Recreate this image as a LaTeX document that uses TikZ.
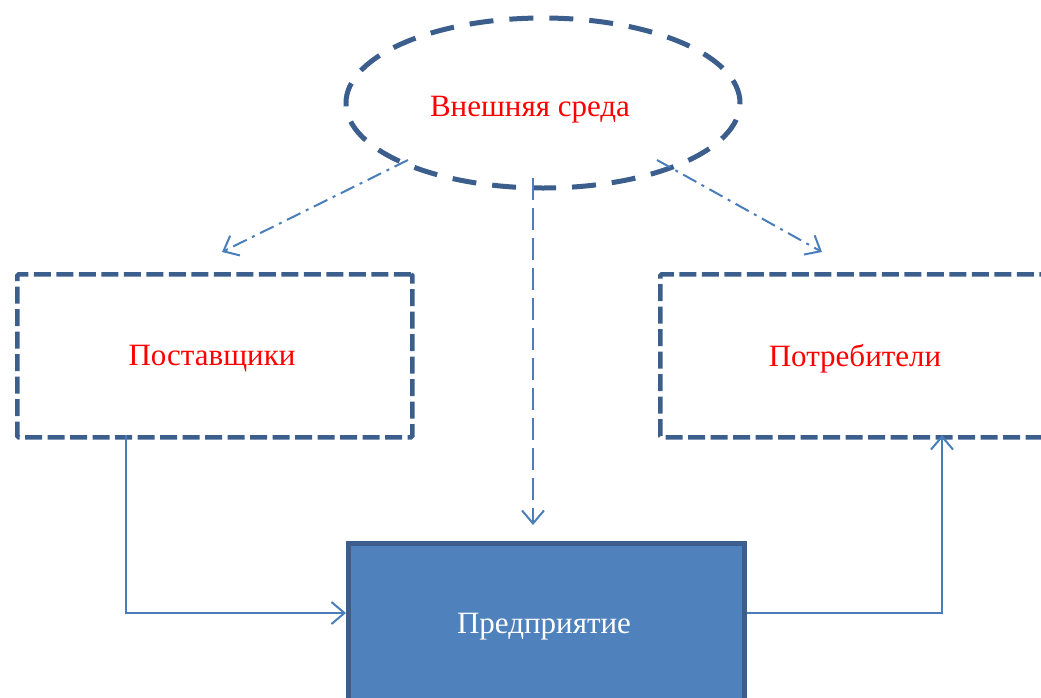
\documentclass[tikz,border=0pt]{standalone}
\usepackage{fontspec}
\setmainfont{Liberation Serif}
\usetikzlibrary{shapes.geometric,arrows.meta}
\definecolor{bord}{RGB}{59,94,140}
\definecolor{fillb}{RGB}{79,129,189}
\definecolor{arr}{RGB}{74,126,187}
\tikzset{
  lbl/.style={font=\fontsize{31}{36}\selectfont},
  dbox/.style={draw=bord, line width=4.6pt, dash pattern=on 17pt off 5.5pt, rectangle, rounded corners=1.5pt},
  ell/.style={draw=bord, line width=5pt, dash pattern=on 24pt off 16pt, ellipse},
  conn/.style={draw=arr, line width=2pt, -{Straight Barb[length=13pt,width=22pt,line width=2pt]}},
  dashdot/.style={conn, dash pattern=on 15pt off 6pt on 3pt off 6pt},
  dashline/.style={conn, dash pattern=on 22pt off 8pt}
}
\begin{document}
\begin{tikzpicture}[x=1pt,y=-1pt]
\useasboundingbox (0,0) rectangle (1041,697);
\clip (0,0) rectangle (1041,697);
\node[ell, minimum width=394pt, minimum height=170pt] (env) at (543,103) {};
\node[lbl, text=red] (envtxt) at (530,110) {Внешняя среда};
\node[dbox, minimum width=395pt, minimum height=163pt, anchor=north west] (sup) at (15,272) {};
\node[lbl, text=red] (suptxt) at (212,359) {Поставщики};
\node[dbox, minimum width=420pt, minimum height=163pt, anchor=north west] (cons) at (658,272) {};
\node[lbl, text=red] (constxt) at (855,359) {Потребители};
\node[draw=bord, fill=fillb, line width=4.5pt, minimum width=396pt, minimum height=200pt, anchor=north west] (ent) at (346,541) {};
\node[lbl, text=white] (enttxt) at (544,627) {Предприятие};
\coordinate (e1) at (408,160);
\coordinate (e2) at (657,160);
\coordinate (e3) at (533,178);
\coordinate (t1) at (222,252);
\coordinate (t2) at (822,252);
\coordinate (t3) at (533,525);
\draw[dashdot] (e1) -- (t1);
\draw[dashdot] (e2) -- (t2);
\draw[dashline] (e3) -- (t3);
\coordinate (s1) at (126,435);
\coordinate (c1) at (942,435);
\draw[conn] (s1) |- (ent.west |- 0,613);
\draw[conn] (ent.east |- 0,613) -| (c1);
\end{tikzpicture}
\end{document}
